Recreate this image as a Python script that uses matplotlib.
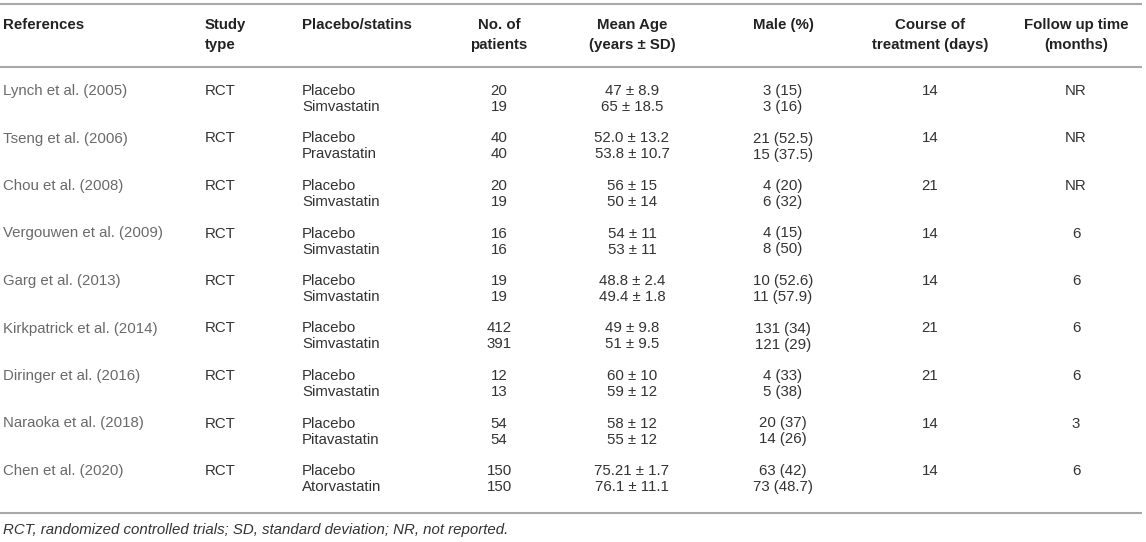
import matplotlib
matplotlib.use("Agg")
import matplotlib.pyplot as plt

plt.rcParams['font.family'] = ['Liberation Sans', 'DejaVu Sans']

headers = [["References", ""], ["Study", "type"], ["Placebo/statins", ""],
           ["No. of", "patients"], ["Mean Age", "(years ± SD)"], ["Male (%)", ""],
           ["Course of", "treatment (days)"], ["Follow up time", "(months)"]]

references = ["Lynch et al. (2005)", "Tseng et al. (2006)", "Chou et al. (2008)",
              "Vergouwen et al. (2009)", "Garg et al. (2013)", "Kirkpatrick et al. (2014)",
              "Diringer et al. (2016)", "Naraoka et al. (2018)", "Chen et al. (2020)"]
study_type = ["RCT"] * 9
statins = ["Simvastatin", "Pravastatin", "Simvastatin", "Simvastatin", "Simvastatin",
           "Simvastatin", "Simvastatin", "Pitavastatin", "Atorvastatin"]
patients = [("20", "19"), ("40", "40"), ("20", "19"), ("16", "16"), ("19", "19"),
            ("412", "391"), ("12", "13"), ("54", "54"), ("150", "150")]
mean_age = [("47 ± 8.9", "65 ± 18.5"), ("52.0 ± 13.2", "53.8 ± 10.7"), ("56 ± 15", "50 ± 14"),
            ("54 ± 11", "53 ± 11"), ("48.8 ± 2.4", "49.4 ± 1.8"), ("49 ± 9.8", "51 ± 9.5"),
            ("60 ± 10", "59 ± 12"), ("58 ± 12", "55 ± 12"), ("75.21 ± 1.7", "76.1 ± 11.1")]
male = [("3 (15)", "3 (16)"), ("21 (52.5)", "15 (37.5)"), ("4 (20)", "6 (32)"),
        ("4 (15)", "8 (50)"), ("10 (52.6)", "11 (57.9)"), ("131 (34)", "121 (29)"),
        ("4 (33)", "5 (38)"), ("20 (37)", "14 (26)"), ("63 (42)", "73 (48.7)")]
course = ["14", "14", "21", "14", "14", "21", "21", "14", "14"]
follow = ["NR", "NR", "NR", "6", "6", "6", "6", "3", "6"]
footnote = "RCT, randomized controlled trials; SD, standard deviation; NR, not reported."

W, H = 1146, 542
fig = plt.figure(figsize=(W / 100, H / 100), dpi=100)
ax = fig.add_axes([0, 0, 1, 1])
ax.set_xlim(0, W)
ax.set_ylim(H, 0)
ax.axis('off')

cols = [(3, 'left'), (205, 'left'), (302, 'left'), (499, 'center'), (632, 'center'),
        (783, 'center'), (930, 'center'), (1076, 'center')]
fs = 10.8
hfs = 10.8
line_c = '#a8a8a8'
hdr_c = '#222222'
body_c = '#333333'
ref_c = '#6a6a6a'

for y in [4, 67, 513]:
    ax.plot([0, 1142], [y, y], color=line_c, lw=1.5, solid_capstyle='butt')

for (x, ha), (l1, l2) in zip(cols, headers):
    ax.text(x, 25, l1, ha=ha, va='center', fontsize=hfs, fontweight='bold', color=hdr_c)
    if l2:
        ax.text(x, 45, l2, ha=ha, va='center', fontsize=hfs, fontweight='bold', color=hdr_c)

y0, pitch, dy = 91, 47.5, 16
for i in range(len(references)):
    ya = y0 + i * pitch
    yb = ya + dy
    ax.text(cols[0][0], ya, references[i], ha='left', va='center', fontsize=fs, color=ref_c)
    ax.text(cols[1][0], ya, study_type[i], ha='left', va='center', fontsize=fs, color=body_c)
    ax.text(cols[2][0], ya, "Placebo", ha='left', va='center', fontsize=fs, color=body_c)
    ax.text(cols[2][0], yb, statins[i], ha='left', va='center', fontsize=fs, color=body_c)
    for c, vals in zip(cols[3:6], [patients[i], mean_age[i], male[i]]):
        ax.text(c[0], ya, vals[0], ha='center', va='center', fontsize=fs, color=body_c)
        ax.text(c[0], yb, vals[1], ha='center', va='center', fontsize=fs, color=body_c)
    ax.text(cols[6][0], ya, course[i], ha='center', va='center', fontsize=fs, color=body_c)
    ax.text(cols[7][0], ya, follow[i], ha='center', va='center', fontsize=fs, color=body_c)

ax.text(3, 530, footnote, ha='left', va='center', fontsize=fs, style='italic', color=body_c)

fig.savefig("out.png", dpi=100)
